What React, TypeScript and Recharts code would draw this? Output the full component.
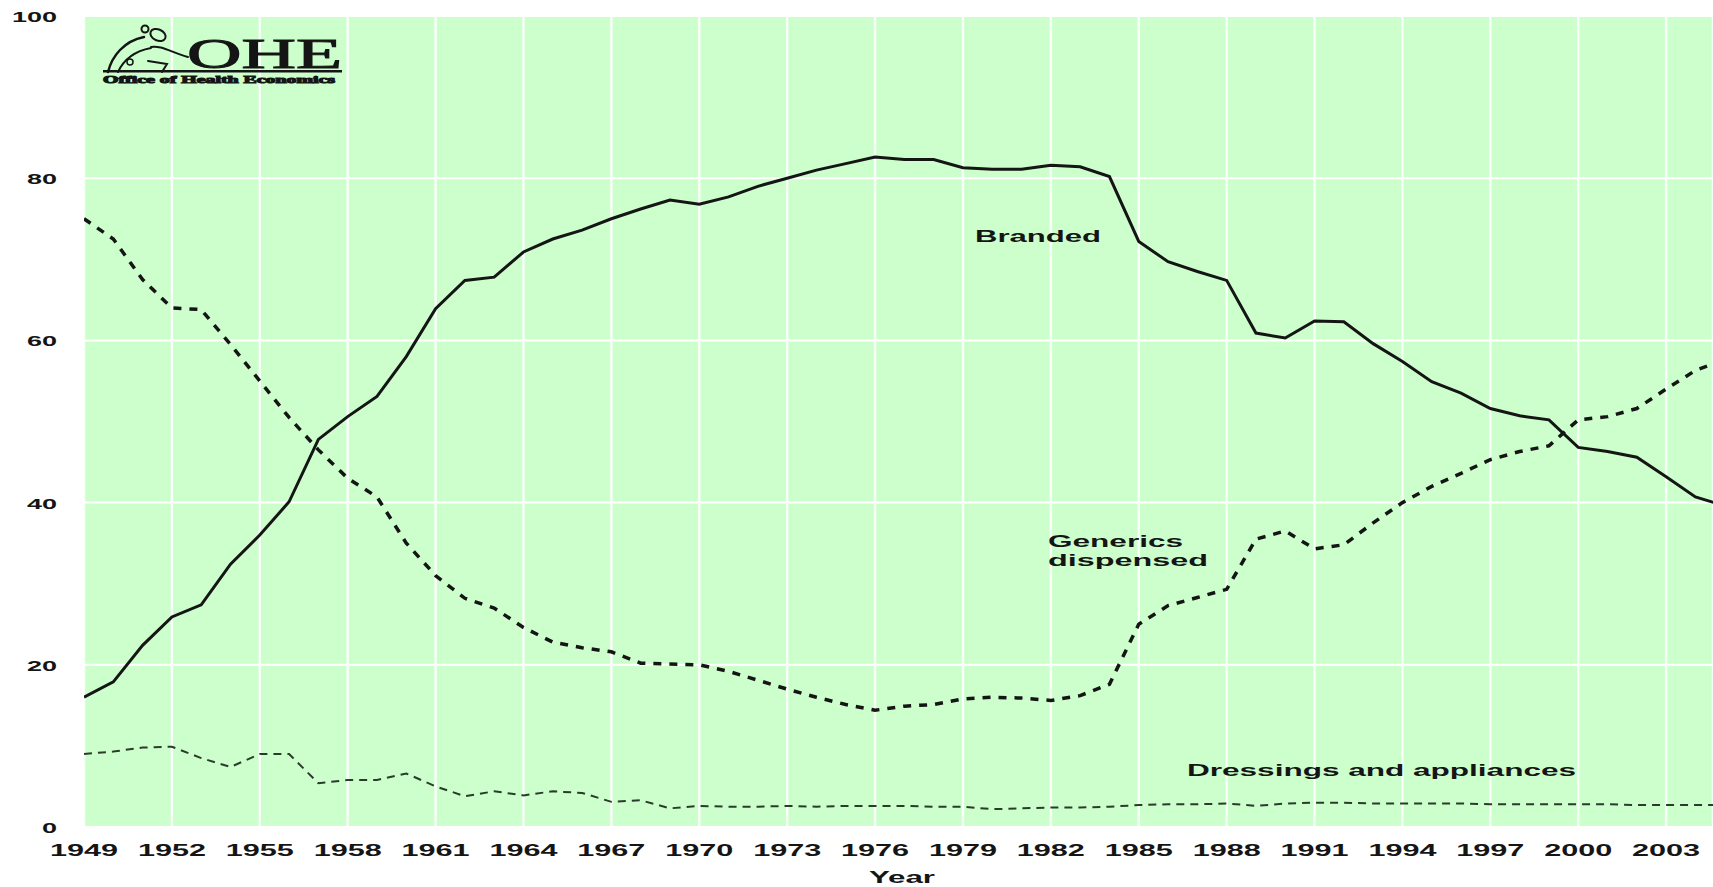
import { LineChart, Line, XAxis, YAxis, CartesianGrid } from 'recharts';

// share of NHS prescription cost, %, by year
const years = [
  1949, 1950, 1951, 1952, 1953, 1954, 1955, 1956, 1957, 1958, 1959, 1960, 1961, 1962, 1963,
  1964, 1965, 1966, 1967, 1968, 1969, 1970, 1971, 1972, 1973, 1974, 1975, 1976, 1977, 1978,
  1979, 1980, 1981, 1982, 1983, 1984, 1985, 1986, 1987, 1988, 1989, 1990, 1991, 1992, 1993,
  1994, 1995, 1996, 1997, 1998, 1999, 2000, 2001, 2002, 2003, 2004, 2005,
];

const branded = [
  16.0, 17.9, 22.4, 25.9, 27.4, 32.4, 36.0, 40.1, 47.8, 50.6, 53.1, 58.0, 63.9, 67.4, 67.8,
  70.9, 72.5, 73.6, 75.0, 76.2, 77.3, 76.8, 77.7, 79.0, 80.0, 81.0, 81.8, 82.6, 82.3, 82.3,
  81.3, 81.1, 81.1, 81.6, 81.4, 80.2, 72.2, 69.7, 68.5, 67.4, 60.9, 60.3, 62.4, 62.3, 59.6,
  57.4, 54.9, 53.5, 51.6, 50.7, 50.2, 46.8, 46.3, 45.6, 43.2, 40.7, 39.6,
];

const generics = [
  75.0, 72.5, 67.5, 64.0, 63.8, 59.5, 55.0, 50.5, 46.5, 43.0, 40.7, 35.0, 31.0, 28.2, 27.0,
  24.6, 22.8, 22.1, 21.6, 20.2, 20.1, 20.0, 19.2, 18.1, 17.0, 16.0, 15.1, 14.4, 14.9, 15.1,
  15.8, 16.0, 15.9, 15.6, 16.2, 17.6, 25.0, 27.3, 28.3, 29.3, 35.5, 36.5, 34.3, 34.8, 37.5,
  40.0, 42.0, 43.6, 45.3, 46.3, 47.0, 50.2, 50.6, 51.6, 54.0, 56.3, 57.6,
];

const dressings = [
  9.0, 9.3, 9.8, 9.9, 8.5, 7.4, 9.0, 9.0, 5.4, 5.8, 5.8, 6.6, 5.0, 3.8, 4.4,
  3.9, 4.4, 4.2, 3.1, 3.3, 2.3, 2.6, 2.5, 2.5, 2.6, 2.5, 2.6, 2.6, 2.6, 2.5,
  2.5, 2.2, 2.3, 2.4, 2.4, 2.5, 2.7, 2.8, 2.8, 2.9, 2.6, 2.9, 3.0, 3.0, 2.9,
  2.9, 2.9, 2.9, 2.8, 2.8, 2.8, 2.8, 2.8, 2.7, 2.7, 2.7, 2.7,
];

const xTicks = [1949, 1952, 1955, 1958, 1961, 1964, 1967, 1970, 1973, 1976, 1979, 1982, 1985, 1988, 1991, 1994, 1997, 2000, 2003];
const yTicks = [0, 20, 40, 60, 80, 100];

const data = years.map((year, i) => ({
  year,
  branded: branded[i],
  generics: generics[i],
  dressings: dressings[i],
}));

const SANS = "'Liberation Sans', Arial, sans-serif";
const SERIF = "'Liberation Serif', 'Times New Roman', serif";
const INK = '#151515';

// the original is stretched sideways, so text gets a fixed drawn width
function Wide({ x, y, w, size, anchor = 'start', children, family = SANS, weight = 700 }: any) {
  return (
    <text
      x={x}
      y={y}
      textLength={w}
      lengthAdjust="spacingAndGlyphs"
      textAnchor={anchor}
      fontFamily={family}
      fontWeight={weight}
      fontSize={size}
      fill={INK}
    >
      {children}
    </text>
  );
}

const XTick = ({ x, y, payload }: any) => (
  <Wide x={x} y={y + 29} w={68} size={16} anchor="middle">
    {payload.value}
  </Wide>
);

const YTick = ({ x, y, payload }: any) => {
  const label = String(payload.value);
  return (
    <Wide x={x - 27} y={y + 6} w={label.length * 15} size={15} anchor="end">
      {label}
    </Wide>
  );
};

function Logo() {
  return (
    <g stroke={INK} fill="none" strokeLinecap="round">
      <path d="M108 72 C112 56, 124 41, 144 37" strokeWidth={2.5} />
      <path d="M118 72 C124 59, 135 51, 151 48" strokeWidth={2} />
      <ellipse cx={158} cy={35} rx={8} ry={5.5} strokeWidth={2} transform="rotate(25 158 35)" />
      <circle cx={145} cy={29} r={3.5} strokeWidth={2} />
      <path d="M151 47 C160 45, 171 52, 188 57" strokeWidth={2} />
      <path d="M148 61 L167 64 L162 72" strokeWidth={2} />
      <circle cx={130} cy={62} r={3} strokeWidth={1.5} />
      <rect x={103} y={70} width={239} height={2.5} fill={INK} stroke="none" />
      <Wide x={187} y={68} w={155} size={42} family={SERIF} weight={400}>
        OHE
      </Wide>
      <Wide x={103} y={83} w={232} size={10} family={SERIF}>
        Office of Health Economics
      </Wide>
    </g>
  );
}

export default function App() {
  return (
    <div style={{ position: 'relative', width: 1713, height: 887, background: '#fff' }}>
      <style>{'body{margin:0;overflow:hidden}'}</style>
      <LineChart width={1713} height={887} data={data} margin={{ top: 16, right: 0, bottom: 0, left: 0 }}>
        <CartesianGrid vertical={false} fill="#ccffcc" stroke="#ffffff" strokeWidth={2} />
        <CartesianGrid horizontal={false} stroke="#ffffff" strokeWidth={2.5} strokeOpacity={0.85} />
        <XAxis
          dataKey="year"
          type="number"
          domain={[1949, 2004.6]}
          allowDataOverflow
          ticks={xTicks}
          interval={0}
          height={60}
          axisLine={false}
          tickLine={false}
          tickSize={0}
          tickMargin={0}
          tick={<XTick />}
        />
        <YAxis
          domain={[0, 100]}
          ticks={yTicks}
          width={84}
          axisLine={false}
          tickLine={false}
          tickSize={0}
          tickMargin={0}
          tick={<YTick />}
        />
        <Line
          type="linear"
          dataKey="dressings"
          stroke="#2b3b2b"
          strokeWidth={2}
          strokeDasharray="8 6"
          dot={false}
          isAnimationActive={false}
        />
        <Line
          type="linear"
          dataKey="generics"
          stroke={INK}
          strokeWidth={3.5}
          strokeDasharray="8 8"
          dot={false}
          isAnimationActive={false}
        />
        <Line
          type="linear"
          dataKey="branded"
          stroke={INK}
          strokeWidth={3}
          dot={false}
          isAnimationActive={false}
        />
      </LineChart>
      <svg
        width={1713}
        height={887}
        style={{ position: 'absolute', left: 0, top: 0, pointerEvents: 'none' }}
      >
        <Logo />
        <Wide x={975} y={242} w={126} size={16}>Branded</Wide>
        <Wide x={1048} y={547} w={135} size={16}>Generics</Wide>
        <Wide x={1048} y={566} w={160} size={16}>dispensed</Wide>
        <Wide x={1187} y={776} w={389} size={16}>Dressings and appliances</Wide>
        <Wide x={902} y={883} w={66} size={16} anchor="middle">Year</Wide>
      </svg>
    </div>
  );
}
